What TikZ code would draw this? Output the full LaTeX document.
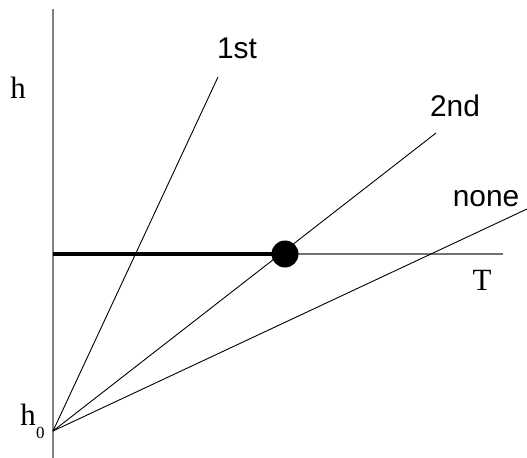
\documentclass[tikz,border=0pt]{standalone}
\usepackage{fontspec}
\setmainfont{Liberation Serif}
\newfontfamily\labelsans{Liberation Sans}
\begin{document}
\begin{tikzpicture}[x=1bp,y=-1bp,
  axis/.style={draw=black!50,line width=1.8bp},
  tline/.style={draw=black!55,line width=1.1bp},
  ray/.style={draw=black,line width=0.9bp},
  thickline/.style={draw=black,line width=4bp},
  sanslabel/.style={anchor=base,inner sep=0pt,font=\labelsans\fontsize{30}{36}\selectfont},
  seriflabel/.style={anchor=base,inner sep=0pt,font=\fontsize{31}{36}\selectfont},
  bigdot/.style={circle,fill=black,minimum size=27bp,inner sep=0pt}]
\useasboundingbox (0,0) rectangle (527,458);
% axes
\coordinate (ytop) at (53,9);
\coordinate (ybot) at (53,458);
\coordinate (O) at (53,431);
\coordinate (tleft) at (53,254);
\coordinate (tright) at (503,254);
\draw[axis] (ytop) -- (ybot);
\draw[tline] (tleft) -- (tright);
% rays
\coordinate (e1) at (218,77);
\coordinate (e2) at (436,133);
\coordinate (e3) at (527,209);
\draw[ray] (O) -- (e1);
\draw[ray] (O) -- (e2);
\draw[ray] (O) -- (e3);
% thick segment and dot
\node[bigdot] (dot) at (285,254) {};
\draw[thickline] (tleft) -- (dot.center);
% labels
\node[sanslabel] (l1) at (237,59) {1st};
\node[sanslabel] (l2) at (455,117) {2nd};
\node[sanslabel] (l3) at (486,207) {none};
\node[seriflabel] (lT) at (482,290) {T};
\node[seriflabel] (lh) at (18,99) {h};
\node[seriflabel,anchor=base east] (lh0) at (36,425) {h};
\node[anchor=base west,inner sep=0pt,font=\fontsize{17}{20}\selectfont] (lsub) at (36,438) {0};
\end{tikzpicture}
\end{document}
